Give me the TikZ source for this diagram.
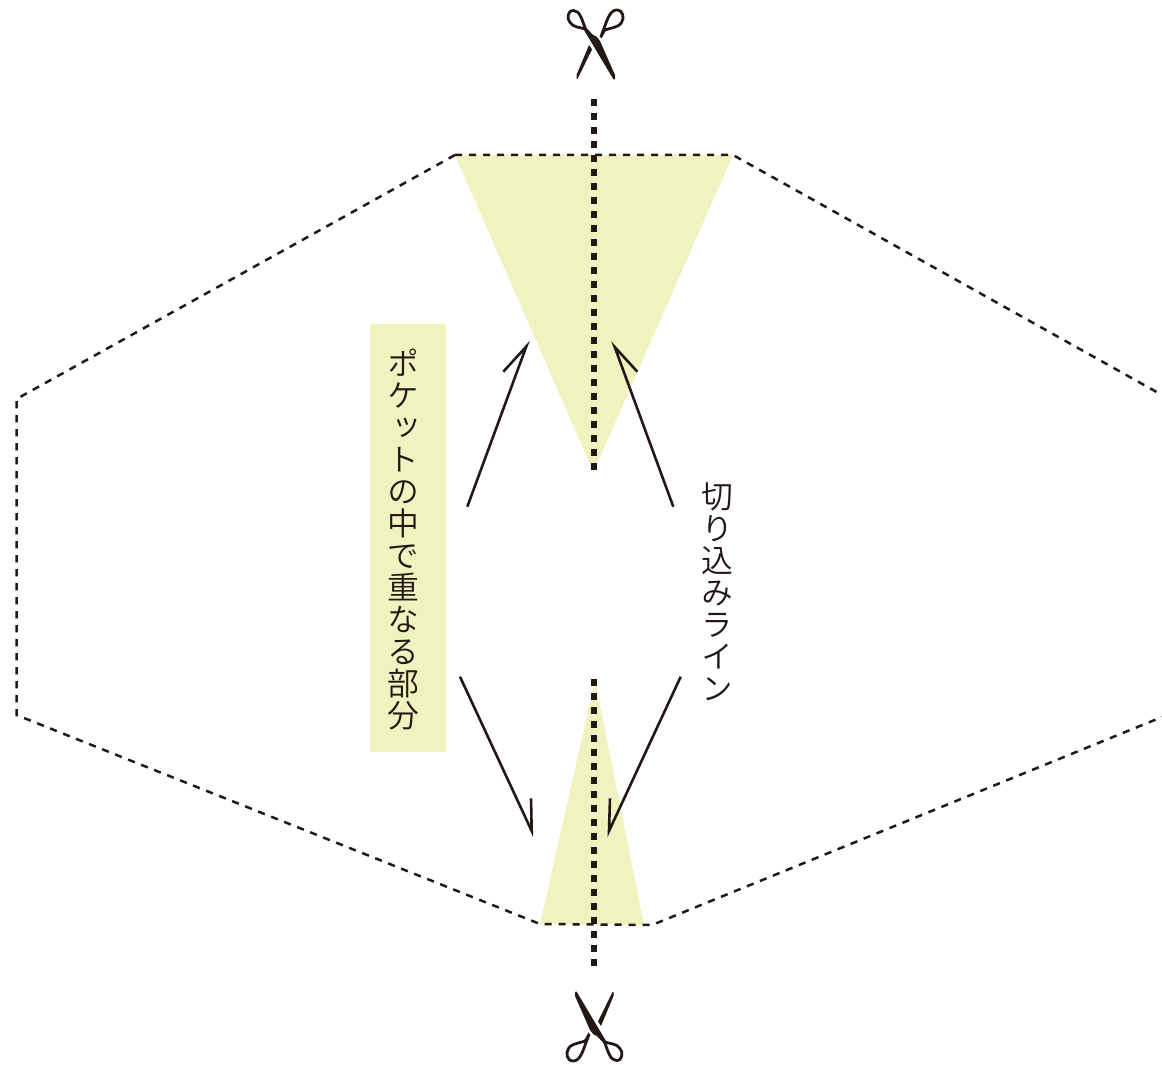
\documentclass[tikz,border=0pt]{standalone}
\usepackage{fontspec}
\newfontfamily\cjk[RawFeature={+vert}]{Noto Sans CJK JP DemiLight}
\usetikzlibrary{positioning}
\definecolor{ink}{RGB}{35,24,21}
\definecolor{overlap}{RGB}{240,243,192}
\tikzset{
  foldline/.style={draw=ink, line width=1.25pt, dash pattern=on 3.6pt off 3.4pt},
  cutline/.style={draw=ink, line width=3pt, dash pattern=on 3.5pt off 3.5pt},
  pointer/.style={draw=ink, line width=1.3pt, miter limit=20},
  vlabel/.style={align=center, text=ink, inner sep=0pt, font=\cjk\fontsize{15.9}{16}\selectfont},
  scissors/.pic={
    \fill[ink] (-11,-14) -- (18.5,35.5) -- (20,35) -- (20,31) -- (5,-3) -- (1.5,-7.5) -- (-2,-9) -- (-8.5,-16) -- cycle;
    \fill[ink] (-18.5,35) -- (-18.5,31) -- (-6,1) -- (-3,5.5) -- (-17.5,35) -- cycle;
    \fill[ink] (4.5,-8) -- (8.5,-15) -- (11,-13.5) -- (6.5,-5.5) -- cycle;
    \draw[ink, line width=1.4pt] (-9.5,-15) .. controls (-13,-24) and (-15,-33.5) .. (-21.5,-33.5)
      .. controls (-28,-33.5) and (-28,-25) .. (-25,-21.5)
      .. controls (-22,-16.5) and (-14,-16.5) .. (-9.5,-15) -- cycle;
    \draw[ink, line width=1.4pt] (8,-13) .. controls (11,-20) and (14,-34) .. (21.5,-34)
      .. controls (28.5,-34) and (29.5,-26) .. (26.5,-21.5)
      .. controls (23.5,-16) and (13,-16) .. (8,-13) -- cycle;
  }
}
\begin{document}
\begin{tikzpicture}[x=0.5pt, y=-0.5pt]
\useasboundingbox (0,0) rectangle (1162,1065);
\fill[overlap] (455,155) -- (733,155) -- (593.5,472) -- cycle;
\fill[overlap] (595,680) -- (644,925) -- (540,924) -- cycle;
\fill[overlap] (370,324) rectangle (446,752);
\path[foldline] (455,155) -- (16.5,399) -- (16.5,715) -- (540,924) -- (652,925) -- (1162,717);
\path[foldline] (455,155) -- (733,155) -- (1162,395);
\path[cutline] (594,99) -- (594,470);
\path[cutline] (594,679) -- (594,966);
\pic at (595,44) {scissors};
\pic[rotate=180] at (595,1027) {scissors};
\node[vlabel] (overlaptext) at (403,540) {ポ\\ケ\\ッ\\ト\\の\\中\\で\\重\\な\\る\\部\\分};
\node[vlabel] (cuttext) at (717,592) {切\\り\\込\\み\\ラ\\イ\\ン};
\coordinate (tl-tail) at (467.3,506.7);
\coordinate (tl-tip) at (526.3,346.5);
\coordinate (tl-barb) at (503.3,371.7);
\coordinate (tr-tail) at (673.3,506.7);
\coordinate (tr-tip) at (614.7,347);
\coordinate (tr-barb) at (637.3,371.7);
\coordinate (bl-tail) at (460,676.7);
\coordinate (bl-tip) at (531.7,831);
\coordinate (bl-barb) at (531,798.3);
\coordinate (br-tail) at (680.7,676.7);
\coordinate (br-tip) at (609,831);
\coordinate (br-barb) at (610,798.3);
\foreach \a in {tl, tr, bl, br}
  \path[pointer] (\a-tail) -- (\a-tip) -- (\a-barb);
\end{tikzpicture}
\end{document}
